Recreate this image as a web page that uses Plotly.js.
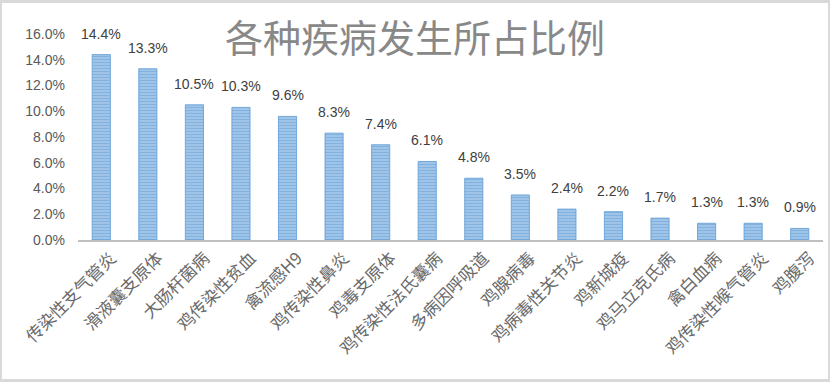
<!DOCTYPE html>
<html>
<head>
<meta charset="utf-8">
<script src="https://cdn.plot.ly/plotly-3.0.1.min.js"></script>
<style>
html,body{margin:0;padding:0;background:#fff;}
#wrap{position:relative;width:830px;height:382px;}
#chart{width:830px;height:382px;}
#frame{position:absolute;left:0;top:0;width:830px;height:382px;box-sizing:border-box;border:2px solid #d9d9d9;border-top-width:3px;border-bottom-width:3px;pointer-events:none;}
</style>
</head>
<body>
<div id="wrap"><div id="chart"></div><div id="frame"></div></div>
<script>
const categories = ["传染性支气管炎","滑液囊支原体","大肠杆菌病","鸡传染性贫血","禽流感H9","鸡传染性鼻炎","鸡毒支原体","鸡传染性法氏囊病","多病因呼吸道","鸡腺病毒","鸡病毒性关节炎","鸡新城疫","鸡马立克氏病","禽白血病","鸡传染性喉气管炎","鸡腹泻"];
const values = [0.144,0.133,0.105,0.103,0.096,0.083,0.074,0.061,0.048,0.035,0.024,0.022,0.017,0.013,0.013,0.009];
const yTickVals = [0,0.02,0.04,0.06,0.08,0.10,0.12,0.14,0.16];
const titleText = "各种疾病发生所占比例";

const trace = {
  type: "bar",
  x: categories,
  y: values,
  marker: {
    color: "#a9c9ea",
    line: {color: "#5b9bd5", width: 0.8},
    pattern: {shape: "-", fgcolor: "#5b9bd5", bgcolor: "#a9c9ea", size: 3, solidity: 0.5, fillmode: "overlay"}
  },
  hoverinfo: "none"
};

const annotations = categories.map((c, i) => ({
  x: c, y: values[i], xref: "x", yref: "y",
  text: (values[i]*100).toFixed(1) + "%",
  showarrow: false, yanchor: "bottom", yshift: 11,
  font: {family: "Liberation Sans, Arial, sans-serif", size: 14, color: "#404040"}
}));

const layout = {
  width: 830, height: 382,
  margin: {l: 78, r: 7, t: 34, b: 142},
  paper_bgcolor: "#ffffff", plot_bgcolor: "#ffffff",
  showlegend: false,
  bargap: 0.61,
  title: {
    text: titleText,
    x: 0.5, xref: "container", xanchor: "center",
    y: 0.9, yref: "container", yanchor: "middle",
    font: {family: "Noto Sans CJK SC, sans-serif", size: 38, color: "#888888"}
  },
  xaxis: {
    type: "category",
    tickangle: -45,
    showline: true, linecolor: "#bfbfbf", linewidth: 1.5,
    ticks: "", showgrid: false, zeroline: false,
    ticklabelshift: 10,
    tickfont: {family: "Noto Sans CJK SC, sans-serif", size: 17, color: "#6a6a6a"}
  },
  yaxis: {
    range: [0, 0.16],
    tickvals: yTickVals,
    tickformat: ".1%",
    showgrid: false, zeroline: false, showline: false, ticks: "",
    ticklabelstandoff: 12,
    tickfont: {family: "Liberation Sans, Arial, sans-serif", size: 14, color: "#595959"}
  },
  annotations: annotations
};

Plotly.newPlot("chart", [trace], layout, {displayModeBar: false, staticPlot: true});
</script>
</body>
</html>
